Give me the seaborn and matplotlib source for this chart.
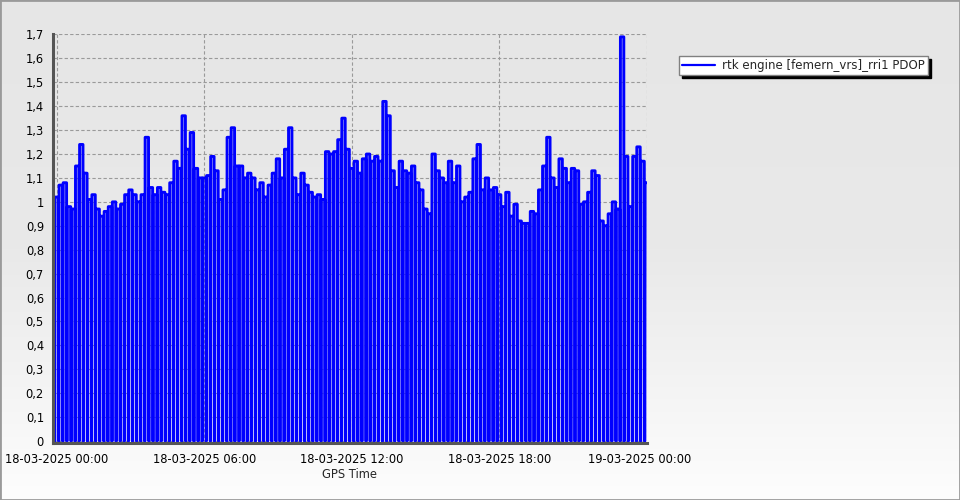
import numpy as np
import pandas as pd
import matplotlib
matplotlib.use("Agg")
import matplotlib.pyplot as plt
import seaborn as sns
from matplotlib.ticker import MultipleLocator, FuncFormatter, FixedLocator
from matplotlib.patches import Rectangle
from matplotlib.colors import LinearSegmentedColormap
from matplotlib.transforms import ScaledTranslation

# ---------------- data ----------------
series_label = "rtk engine [femern_vrs]_rri1 PDOP"
x_label = "GPS Time"
sample_minutes = 10  # one PDOP block every 10 minutes, dropping to 0 in between

pdop = [
    1.02, 1.07, 1.08, 0.98, 0.97, 1.15, 1.24, 1.12, 1.01, 1.03,
    0.97, 0.94, 0.96, 0.98, 1.00, 0.97, 0.99, 1.03, 1.05, 1.03,
    1.00, 1.03, 1.27, 1.06, 1.03, 1.06, 1.04, 1.03, 1.08, 1.17,
    1.14, 1.36, 1.22, 1.29, 1.14, 1.10,
    1.10, 1.11, 1.19, 1.13, 1.01, 1.05, 1.27, 1.31, 1.15, 1.15,
    1.10, 1.12, 1.10, 1.05, 1.08, 1.02, 1.07, 1.12, 1.18, 1.10,
    1.22, 1.31, 1.10, 1.03, 1.12, 1.07, 1.04, 1.02, 1.03, 1.01,
    1.21, 1.20, 1.21, 1.26, 1.35, 1.22, 1.14,
    1.17, 1.12, 1.18, 1.20, 1.17, 1.19, 1.17, 1.42, 1.36, 1.13,
    1.06, 1.17, 1.13, 1.12, 1.15, 1.08, 1.05, 0.97, 0.95, 1.20,
    1.13, 1.10, 1.08, 1.17, 1.08, 1.15, 1.00, 1.02, 1.04, 1.18,
    1.24, 1.05, 1.10, 1.05, 1.06, 1.03, 0.98,
    1.04, 0.94, 0.99, 0.92, 0.91, 0.91, 0.96, 0.95, 1.05,
    1.15, 1.27, 1.10, 1.06, 1.18, 1.14, 1.08, 1.14, 1.13, 0.99,
    1.00, 1.04, 1.13, 1.11, 0.92, 0.90, 0.95, 1.00, 0.97, 1.69,
    1.19, 0.98, 1.19, 1.23, 1.17, 1.08,
]

x_tick_hours = [0, 6, 12, 18, 24]
x_tick_labels = ["18-03-2025 00:00", "18-03-2025 06:00", "18-03-2025 12:00",
                 "18-03-2025 18:00", "19-03-2025 00:00"]
y_ticks = [0.0, 0.1, 0.2, 0.3, 0.4, 0.5, 0.6, 0.7, 0.8, 0.9,
           1.0, 1.1, 1.2, 1.3, 1.4, 1.5, 1.6, 1.7]

# ---------------- build the trace (value blocks separated by drops to 0) ----------------
t_rows, v_rows = [], []
for i, v in enumerate(pdop):
    t = i * sample_minutes / 60.0
    for dt, val in ((-4.5, 0.0), (-4.1, v), (4.1, v), (4.5, 0.0)):
        t_rows.append(t + dt / 60.0)
        v_rows.append(val)
df = pd.DataFrame({"hours": t_rows, "PDOP": v_rows})

# ---------------- figure ----------------
sns.set_style("white")
plt.rcParams["font.family"] = ["DejaVu Sans"]

W, H = 960, 500
fig = plt.figure(figsize=(W / 100, H / 100), dpi=100)

# background gradient
bg = fig.add_axes([0, 0, 1, 1], zorder=-10)
grad = np.linspace(0, 1, 256)[:, None]
cmap = LinearSegmentedColormap.from_list("bg", ["#e6e6e6", "#e9e9e9", "#fdfdfd"])
bg.imshow(grad, aspect="auto", cmap=cmap, extent=[0, 1, 0, 1])
bg.set_axis_off()

left, right, top, bottom = 53, 647, 34, 443
ax = fig.add_axes([left / W, 1 - bottom / H, (right - left) / W, (bottom - top) / H])
ax.set_facecolor("none")

sns.lineplot(data=df, x="hours", y="PDOP", color="#0000ff", linewidth=2.1,
             sort=False, estimator=None, label=series_label, ax=ax)

px_per_hour = (646.7 - 56.7) / 24.0
ax.set_xlim(-(56.7 - left) / px_per_hour, 24 + (right - 646.7) / px_per_hour)
px_per_unit = (441 - 34) / 1.7
ax.set_ylim(-(bottom - 441) / px_per_unit, 1.702)

ax.xaxis.set_major_locator(FixedLocator(x_tick_hours))
ax.set_xticklabels(x_tick_labels)
ax.xaxis.set_minor_locator(MultipleLocator(1.5))
ax.yaxis.set_major_locator(FixedLocator(y_ticks))
ax.yaxis.set_minor_locator(MultipleLocator(0.02))
ax.yaxis.set_major_formatter(FuncFormatter(lambda v, p: ("%g" % round(v, 2)).replace(".", ",")))

ax.grid(True, which="major", linestyle=(0, (3, 2)), color="#9a9a9a", linewidth=0.8)
ax.set_axisbelow(True)

for s in ("top", "right"):
    ax.spines[s].set_visible(False)
for s in ("left", "bottom"):
    ax.spines[s].set_color("#555555")
    ax.spines[s].set_linewidth(2.2)

ax.tick_params(axis="both", which="major", length=4, width=0.8, color="#808080",
               labelsize=8.3, labelcolor="#000000", direction="out")
ax.tick_params(axis="y", which="major", pad=2.5)
ax.tick_params(axis="x", which="major", pad=3)
ax.tick_params(axis="both", which="minor", length=2.5, width=0.8, color="#909090", direction="out")

# last date label sits a little left of its tick in the reference
last = ax.get_xticklabels()[-1]
last.set_transform(last.get_transform() + ScaledTranslation(-7 / 100, 0, fig.dpi_scale_trans))

ax.set_xlabel(x_label, fontsize=8.3, labelpad=2)
ax.set_ylabel("")

leg = ax.legend(loc="upper left", bbox_to_anchor=(679 / W, 1 - 56 / H),
                bbox_transform=fig.transFigure, fontsize=8.5, frameon=True,
                fancybox=False, framealpha=1, facecolor="white", edgecolor="#808080",
                shadow={"facecolor": "black", "edgecolor": "black", "alpha": 1.0},
                handlelength=2.8, handletextpad=0.6, borderpad=0.25, borderaxespad=0)
leg.get_frame().set_linewidth(1.0)
for line in leg.get_lines():
    line.set_linewidth(1.6)

fig.patches.append(Rectangle((0, 0), 1, 1, transform=fig.transFigure, fill=False,
                             edgecolor="#9a9a9a", linewidth=2))

fig.savefig("out.png", dpi=100)
